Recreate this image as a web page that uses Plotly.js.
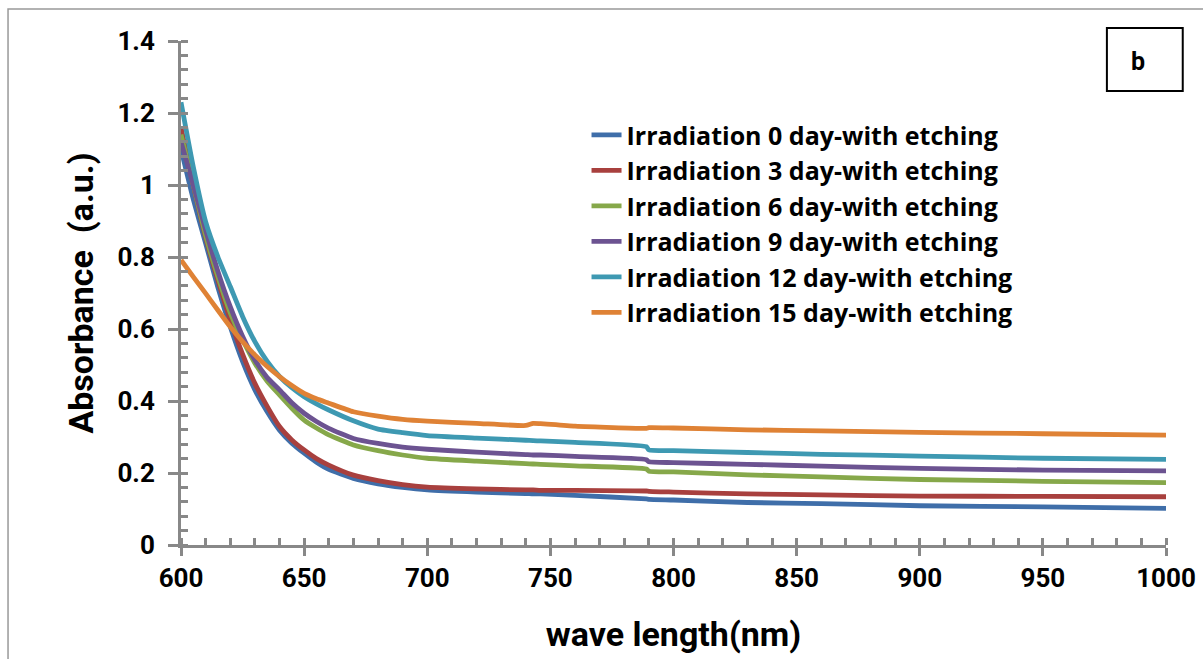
<!DOCTYPE html>
<html>
<head>
<meta charset="utf-8">
<script src="https://cdn.plot.ly/plotly-3.0.1.min.js"></script>
<style>html,body{margin:0;padding:0;background:#fff;}#chart{width:1203px;height:659px;}</style>
</head>
<body>
<div id="chart"></div>
<script>
// wavelength (nm)
const wavelength = [600,605,610,615,620,625,630,635,640,645,650,655,660,670,680,690,700,720,740,743,746,760,789,790,800,830,860,900,950,1000];
const seriesNames = [
  "Irradiation 0 day-with etching",
  "Irradiation 3 day-with etching",
  "Irradiation 6 day-with etching",
  "Irradiation 9 day-with etching",
  "Irradiation 12 day-with etching",
  "Irradiation 15 day-with etching"
];
const day0  = [1.10,0.96,0.838,0.715,0.606,0.51,0.431,0.37,0.319,0.283,0.255,0.23,0.210,0.185,0.170,0.160,0.153,0.147,0.143,0.142,0.142,0.138,0.128,0.127,0.125,0.118,0.115,0.109,0.106,0.102];
const day3  = [1.16,1.0,0.855,0.735,0.625,0.53,0.449,0.385,0.329,0.292,0.264,0.24,0.222,0.194,0.179,0.168,0.161,0.156,0.153,0.153,0.152,0.152,0.150,0.149,0.147,0.142,0.139,0.136,0.135,0.134];
const day6  = [1.14,1.0,0.86,0.745,0.645,0.57,0.505,0.455,0.417,0.38,0.347,0.325,0.306,0.278,0.262,0.25,0.241,0.233,0.226,0.225,0.224,0.220,0.211,0.205,0.203,0.195,0.189,0.182,0.177,0.173];
const day9  = [1.12,1.0,0.875,0.76,0.662,0.58,0.514,0.465,0.431,0.395,0.366,0.343,0.324,0.296,0.282,0.272,0.266,0.258,0.251,0.250,0.250,0.246,0.237,0.231,0.229,0.224,0.219,0.213,0.208,0.206];
const day12 = [1.23,1.05,0.898,0.80,0.718,0.635,0.565,0.510,0.468,0.437,0.412,0.392,0.375,0.345,0.322,0.312,0.304,0.297,0.291,0.290,0.289,0.285,0.273,0.264,0.262,0.257,0.252,0.247,0.241,0.238];
const day15 = [0.792,0.745,0.699,0.652,0.606,0.565,0.528,0.496,0.468,0.443,0.421,0.406,0.394,0.370,0.358,0.349,0.344,0.338,0.332,0.338,0.337,0.330,0.324,0.326,0.325,0.320,0.317,0.313,0.309,0.305];
const seriesValues = [day0, day3, day6, day9, day12, day15];
const seriesColors = ["#3F6EA9","#A8403E","#86A84A","#6C5391","#3E99B2","#DF8235"];

const FONT = "Roboto, 'Open Sans', sans-serif";
const LEGEND_FONT = "'Open Sans', Roboto, sans-serif";
const traces = seriesValues.map((v, i) => ({
  type: "scatter", mode: "lines", x: wavelength, y: v, name: seriesNames[i],
  line: {color: seriesColors[i], width: 4.8, shape: "spline", smoothing: 0.5}
}));

const axisGray = "#888888";
const layout = {
  width: 1203, height: 659,
  margin: {l: 181, r: 37, t: 41, b: 114},
  paper_bgcolor: "#ffffff", plot_bgcolor: "#ffffff",
  font: {family: FONT, color: "#000", size: 22},
  showlegend: true,
  legend: {x: 0.4117, y: 0.859, xanchor: "left", yanchor: "top", bgcolor: "rgba(0,0,0,0)",
           font: {family: LEGEND_FONT, size: 25, color: "#000", weight: "bold"}, tracegroupgap: 0},
  xaxis: {
    range: [600, 1000], tickvals: [600,650,700,750,800,850,900,950,1000],
    ticks: "outside", ticklen: 8, tickwidth: 3, tickcolor: axisGray,
    showline: true, linecolor: axisGray, linewidth: 3, showgrid: false, zeroline: false,
    minor: {dtick: 10, ticks: "inside", ticklen: 7, tickwidth: 3, tickcolor: axisGray, showgrid: false},
    tickfont: {family: FONT, size: 26, weight: "bold"},
    title: {text: "wave length(nm)", font: {family: FONT, size: 34, weight: "bold"}, standoff: 30},
    fixedrange: true
  },
  yaxis: {
    range: [0, 1.4], dtick: 0.2,
    ticks: "outside", ticklen: 10, tickwidth: 3, tickcolor: axisGray, ticklabelstandoff: 8,
    showline: true, linecolor: axisGray, linewidth: 3, showgrid: false, zeroline: false,
    minor: {dtick: 0.04, ticks: "inside", ticklen: 7, tickwidth: 3, tickcolor: axisGray, showgrid: false},
    tickfont: {family: FONT, size: 26, weight: "bold"},
    title: {text: "Absorbance&nbsp; (a.u.)", font: {family: FONT, size: 34, weight: "bold"}, standoff: 14},
    fixedrange: true
  },
  xaxis2: {overlaying: "x", anchor: "y", side: "bottom", range: [600, 1000], tickvals: [600,650,700,750,800,850,900,950,1000],
    ticks: "inside", ticklen: 7, tickwidth: 3, tickcolor: axisGray, showticklabels: false,
    showline: false, showgrid: false, zeroline: false, fixedrange: true},
  yaxis2: {overlaying: "y", anchor: "x", side: "left", range: [0, 1.4], dtick: 0.2,
    ticks: "inside", ticklen: 6, tickwidth: 3, tickcolor: axisGray, showticklabels: false,
    showline: false, showgrid: false, zeroline: false, fixedrange: true},
  shapes: [
    {type: "rect", xref: "paper", yref: "paper", x0: -0.1756, x1: 1.2, y0: -0.4, y1: 1.0635,
     line: {color: "#999999", width: 1.5}, fillcolor: "rgba(0,0,0,0)", layer: "below"},
    {type: "rect", xref: "paper", yref: "paper", x0: 0.940, x1: 1.017, y0: 0.901, y1: 1.026,
     line: {color: "#000", width: 2}, fillcolor: "#fff"}
  ],
  annotations: [
    {xref: "paper", yref: "paper", x: 0.9716, y: 0.960, xanchor: "center", yanchor: "middle",
     text: "b", showarrow: false,
     font: {family: FONT, size: 25, weight: "bold", color: "#000"}}
  ]
};
Plotly.newPlot("chart", traces, layout, {displayModeBar: false, staticPlot: true});
</script>
</body>
</html>
